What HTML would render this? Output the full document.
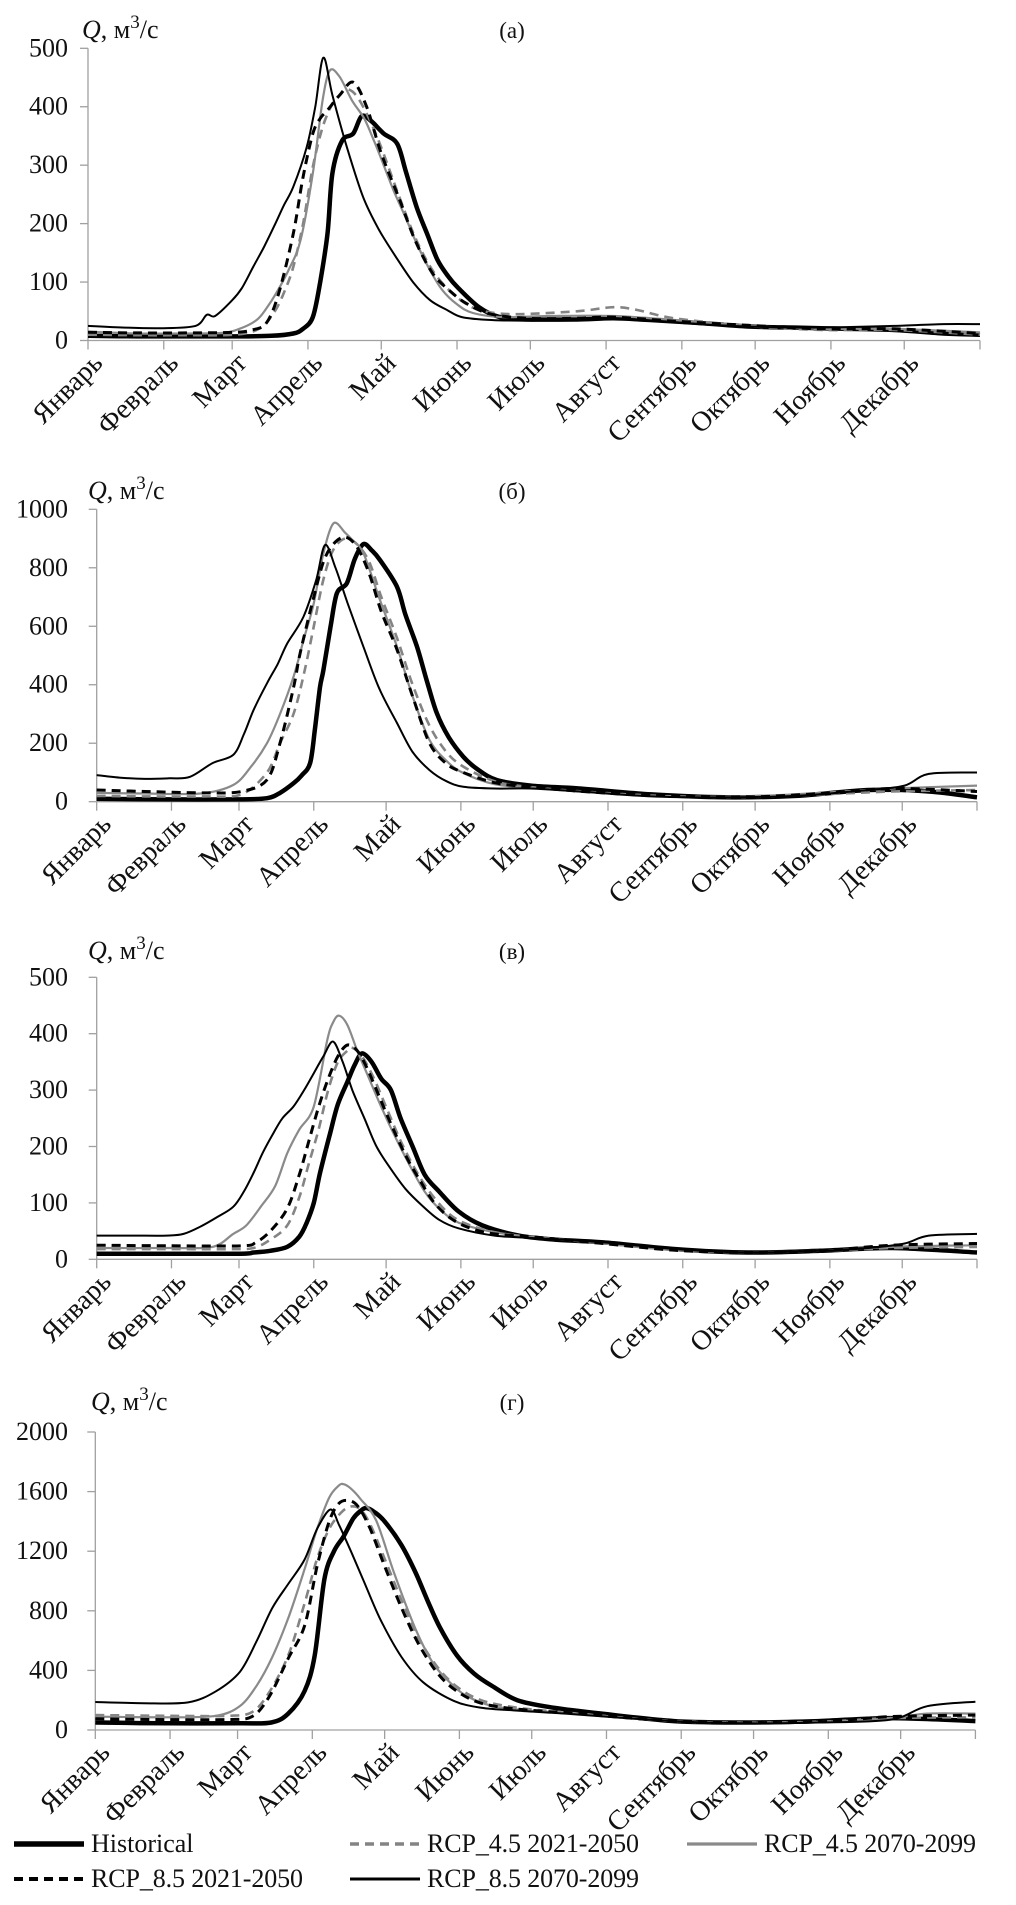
<!DOCTYPE html>
<html><head><meta charset="utf-8"><style>
html,body{margin:0;padding:0;background:#fff}
svg{display:block}
text{font-family:"Liberation Serif","DejaVu Serif",serif;fill:#111}
</style></head>
<body>
<svg id="chart" width="1016" height="1905" viewBox="0 0 1016 1905" xmlns="http://www.w3.org/2000/svg"></svg>
<script>
// ---------- data ----------
const monthNames = ["Январь","Февраль","Март","Апрель","Май","Июнь","Июль","Август","Сентябрь","Октябрь","Ноябрь","Декабрь"];
const monthStartDays = [0,31,59,90,120,151,181,212,243,273,304,334,365];
const panelLetters = ["(а)","(б)","(в)","(г)"];
const yMaxA = 500, yStepA = 100;
const yMaxB = 1000, yStepB = 200;
const yMaxC = 500, yStepC = 100;
const yMaxD = 2000, yStepD = 400;

// Panel (a)
const aHistDays = [0,20,40,60,75,84,88,92,95,98,100,104,108.5,112,116,121,126.5,130,134.5,139,143,147,151,160,168.5,180,200,215,230,250,270,290,310,330,350,365];
const aHistVals = [8,7,7,7,8,12,20,40,100,183,286,342,354,384,375,354,337,290,228,180,138,112,92,57,40,36,36,38,35,30,24,22,20,18,12,10];
const a4550Days = [0,20,40,60,70,76,80,84,88,92,96,100,103,106,110,115,120,127,134,141,148,155,162,175,200,215,225,240,270,300,330,365];
const a4550Vals = [10,9,9,10,20,47,80,126,200,297,365,405,420,430,418,380,330,250,175,120,85,62,50,45,50,57,52,38,25,18,18,10];
const a4599Days = [0,20,40,55,62,69,73,77,82,87,92,96,99,103,108,113,117,121,125,130,134.5,140,145,151,157.5,170,190,215,240,270,300,330,365];
const a4599Vals = [15,12,12,13,20,35,55,81,120,172,286,411,462,451,411,380,342,300,257,210,166,120,86,62,47,40,42,42,35,25,20,20,14];
const a8550Days = [0,20,40,60,67,73,78,84,88,92,95,98,103,108.5,114,120,127.6,134,141,148,155,165,180,200,215,240,270,300,330,365];
const a8550Vals = [14,13,13,14,18,30,80,183,280,354,380,394,420,442,400,320,240,170,115,85,63,45,38,38,40,33,26,20,20,12];
const a8599Days = [0,15,30,44,48.6,52,59,63,67.6,72,76,80,84,89.5,93,96.3,100,106,112.6,119,126,133,140,147,153,165,180,200,215,230,250,270,290,310,330,350,365];
const a8599Vals = [25,22,21,25,44,42,69,90,126,160,194,230,263,331,400,484,420,330,245,190,143,100,69,52,40,35,34,36,38,34,28,24,22,23,25,28,28];

// Panel (б)
const bHistDays = [0,30,60,70.6,76,81.6,85,88.5,90.5,92.6,94,97,99.6,103.7,107,110.6,114,117.5,124.5,128,132.8,137,141,146,152,158,166,180,200,230,260,290,320,345,365];
const bHistVals = [10,8,8,12,30,63,90,132,250,392,450,600,713,747,830,881,860,826,735,640,530,410,303,220,154,110,74,55,45,25,15,20,40,35,15];
const b4550Days = [0,20,45,60,70.6,76,81.6,86,90,94,98,103,108,113,118,124.5,131,138,145,152,165,180,210,240,270,300,330,365];
const b4550Vals = [20,18,18,25,100,200,300,440,600,760,860,900,880,820,700,560,400,260,170,120,70,50,30,18,16,25,35,40];
const b4599Days = [0,20,43,56.6,64,70.6,76,81.6,86,90,94,98.2,103,106,110.6,117,124.5,131,138,145,152,165,180,210,240,270,300,330,365];
const b4599Vals = [30,28,28,57,120,200,300,427,560,679,850,952,920,895,850,700,530,360,211,140,98,60,48,30,18,18,30,45,55];
const b8550Days = [0,20,45,60,70.6,76,81.6,84,87,90,94,98,103,108,113,118,124.5,131,138,145,152,165,180,210,240,270,300,330,365];
const b8550Vals = [40,35,30,35,75,200,390,495,600,700,820,880,905,870,780,650,520,360,200,130,100,65,50,30,18,16,28,45,35];
const b8599Days = [0,10,20,30,38.7,48,56.6,61,65,70.6,75,79,85.7,91,94.7,99,104,110.6,117,124.5,131,138,145,152,165,180,200,230,260,290,320,335,345,365];
const b8599Vals = [91,82,78,80,85,132,160,230,313,405,470,541,632,758,878,800,680,530,390,269,170,108,70,51,45,45,35,18,15,20,40,55,95,100];

// Panel (в)
const cHistDays = [0,30,60,65,72,79,84,87,90,92.6,96.8,100,104,107,110,114,118,122,126,131,136,142,150,160,175,190,210,240,270,300,330,365];
const cHistVals = [10,10,10,12,15,22,40,64,100,153,224,275,315,345,365,350,320,300,250,200,150,120,85,60,42,35,30,18,12,15,20,12];
const c4550Days = [0,30,55,65,72,79,84,88,92,96,100,104,106,110,115,120,126,132,138,145,152,165,180,210,240,270,300,330,365];
const c4550Vals = [18,18,18,20,35,60,110,170,230,300,350,370,375,360,320,270,210,160,120,85,65,48,40,28,16,12,15,20,22];
const c4599Days = [0,30,48,56.6,62,68,74,79,84,90,95.6,98,100.5,104,108,112,118,124,130,136,142,150,165,180,210,240,270,300,330,365];
const c4599Vals = [20,20,22,45,60,93,130,188,230,271,389,420,432,415,370,330,270,215,165,120,90,65,48,40,28,16,12,15,22,25];
const c8550Days = [0,30,60,66,72,79,84,88,92,96,100,104,108,112,117,122,128,134,140,147,155,165,180,210,240,270,300,330,365];
const c8550Vals = [25,24,24,30,50,90,150,210,270,320,360,380,370,340,290,240,185,140,100,72,55,45,40,28,16,12,15,25,28];
const c8599Days = [0,15,29,36,43,50,56.6,61,65,69,73.3,77,81.6,86,90,94,98,102,106,111,116,122,128,135,142,150,165,180,210,240,270,300,320,335,345,365];
const c8599Vals = [42,42,42,45,58,75,93,120,153,190,224,250,271,300,330,360,386,350,300,250,200,160,125,95,70,55,42,38,30,18,12,15,20,28,42,45];

// Panel (г)
const dHistDays = [0,30,60,73,80,86.8,91,95,99,103,107,110,112.4,116,120,127,133,138,143,150,157,164.6,175,190,210,240,270,300,330,365];
const dHistVals = [50,45,45,50,110,262,500,1013,1200,1300,1420,1470,1490,1460,1400,1240,1050,860,686,500,380,295,200,150,110,60,50,60,80,60];
const d4550Days = [0,30,55,65,72,80,86.8,92,97,102,106,110,114,120,127,134,142,150,160,175,200,230,260,300,330,365];
const d4550Vals = [100,95,95,120,250,500,850,1150,1350,1460,1500,1480,1380,1150,870,620,420,290,200,150,110,70,50,55,80,85];
const d4599Days = [0,30,50,60,67,73.4,80,86.8,92,97,101,103,106,110,116.5,124,132.6,140,147,154,165,180,200,230,260,300,330,345,365];
const d4599Vals = [90,85,95,161,300,490,750,1080,1350,1560,1640,1650,1620,1550,1406,1050,686,450,320,228,160,130,110,70,50,55,80,110,110];
const d8550Days = [0,30,55,65,72,80,86.8,92,97,101,105,109,114,120,127,134,142,150,160,175,200,230,260,300,330,365];
const d8550Vals = [75,70,70,90,220,480,700,1100,1400,1520,1540,1500,1350,1100,820,580,380,260,180,140,110,70,50,55,90,100];
const d8599Days = [0,20,38.5,50,60,67,73.4,80,86.8,92,97.5,101,106,111,118,127,136,148.7,160,175,195,220,245,270,300,330,345,365];
const d8599Vals = [188,180,185,260,391,600,819,980,1144,1350,1480,1380,1200,1013,750,490,320,195,150,130,110,80,55,45,50,70,160,190];

// ---------- drawing ----------
const NS = "http://www.w3.org/2000/svg";
const svg = document.getElementById('chart');
function mk(tag, attrs, parent){
  const e = document.createElementNS(NS, tag);
  for (const k in attrs) e.setAttribute(k, attrs[k]);
  (parent||svg).appendChild(e);
  return e;
}
const styles = {
  hist: {stroke:"#000", w:4.5, dash:null},
  r4550: {stroke:"#848484", w:2.6, dash:"9,6"},
  r4599: {stroke:"#8a8a8a", w:2.2, dash:null},
  r8550: {stroke:"#000", w:3, dash:"9,6"},
  r8599: {stroke:"#000", w:2, dash:null}
};
const panels = [
  {id:"a", x0:88, x1:980, base:340.5, top:48.3, max:yMaxA, step:yStepA, titleY:38, qx:82,
   series:[["hist",aHistDays,aHistVals],["r4550",a4550Days,a4550Vals],["r4599",a4599Days,a4599Vals],["r8550",a8550Days,a8550Vals],["r8599",a8599Days,a8599Vals]]},
  {id:"b", x0:96.7, x1:977, base:801.7, top:509.3, max:yMaxB, step:yStepB, titleY:499, qx:88,
   series:[["hist",bHistDays,bHistVals],["r4550",b4550Days,b4550Vals],["r4599",b4599Days,b4599Vals],["r8550",b8550Days,b8550Vals],["r8599",b8599Days,b8599Vals]]},
  {id:"c", x0:96.7, x1:977, base:1259.3, top:977.3, max:yMaxC, step:yStepC, titleY:959, qx:88,
   series:[["hist",cHistDays,cHistVals],["r4550",c4550Days,c4550Vals],["r4599",c4599Days,c4599Vals],["r8550",c8550Days,c8550Vals],["r8599",c8599Days,c8599Vals]]},
  {id:"d", x0:95.3, x1:975.4, base:1730, top:1432, max:yMaxD, step:yStepD, titleY:1410, qx:91,
   series:[["hist",dHistDays,dHistVals],["r4550",d4550Days,d4550Vals],["r4599",d4599Days,d4599Vals],["r8550",d8550Days,d8550Vals],["r8599",d8599Days,d8599Vals]]}
];
function smoothPath(pts){
  let d = "M" + pts[0][0].toFixed(1) + "," + pts[0][1].toFixed(1);
  for (let i=0;i<pts.length-1;i++){
    const p0 = pts[i-1]||pts[i], p1 = pts[i], p2 = pts[i+1], p3 = pts[i+2]||p2;
    const t = 0.16;
    const c1x = p1[0]+(p2[0]-p0[0])*t, c1y = p1[1]+(p2[1]-p0[1])*t;
    const c2x = p2[0]-(p3[0]-p1[0])*t, c2y = p2[1]-(p3[1]-p1[1])*t;
    d += "C"+c1x.toFixed(1)+","+c1y.toFixed(1)+" "+c2x.toFixed(1)+","+c2y.toFixed(1)+" "+p2[0].toFixed(1)+","+p2[1].toFixed(1);
  }
  return d;
}
panels.forEach((p, pi) => {
  const g = mk('g', {});
  
  
  const xs = day => p.x0 + (p.x1 - p.x0) * day / 365;
  const ys = v => p.base - (p.base - p.top) * v / p.max;

  const t = mk('text', {x:p.qx, y:p.titleY, 'font-size':26}, g);
  
  
  t.innerHTML = '<tspan font-style="italic">Q</tspan>, м<tspan dy="-10" font-size="19">3</tspan><tspan dy="10">/с</tspan>';
  const lt = mk('text', {x:512, y:p.titleY, 'font-size':23, 'text-anchor':'middle'}, g);
  
  
  lt.textContent = panelLetters[pi];

  const ya = mk('line', {x1:p.x0, y1:p.top, x2:p.x0, y2:p.base, stroke:"#a0a0a0", 'stroke-width':1.3}, g);
  
  
  const xa = mk('line', {x1:p.x0, y1:p.base, x2:p.x1, y2:p.base, stroke:"#a0a0a0", 'stroke-width':1.3}, g);
  
  

  for (let v = 0; v <= p.max; v += p.step){
    const y = ys(v);
    const tk = mk('line', {x1:p.x0-8, y1:y, x2:p.x0, y2:y, stroke:"#a0a0a0", 'stroke-width':1.3}, g);
    
    
    const tl = mk('text', {x:68, y:y+8, 'font-size':26, 'text-anchor':'end'}, g);
    
    
    tl.textContent = v;
  }
  monthStartDays.forEach((d, i) => {
    const x = xs(d);
    const tk = mk('line', {x1:x, y1:p.base, x2:x, y2:p.base+9, stroke:"#a0a0a0", 'stroke-width':1.3}, g);
    
    
    if (i < 12){
      const ml = mk('text', {x:0, y:0, 'font-size':28, 'text-anchor':'end',
        transform:'translate(' + (x+16).toFixed(1) + ',' + (p.base+24).toFixed(1) + ') rotate(-45)'}, g);
      
      
      ml.textContent = monthNames[i];
    }
  });

  p.series.forEach(s => {
    const st = styles[s[0]];
    const pts = s[1].map((d, i) => [xs(d), ys(s[2][i])]);
    const path = mk('path', {d:smoothPath(pts), fill:'none', stroke:st.stroke, 'stroke-width':st.w, 'stroke-linejoin':'round'}, g);
    if (st.dash) path.setAttribute('stroke-dasharray', st.dash);
    
    
  });
});

const legendItems = [
  ["hist","Historical",14,1852],
  ["r4550","RCP_4.5 2021-2050",350,1852],
  ["r4599","RCP_4.5 2070-2099",687,1852],
  ["r8550","RCP_8.5 2021-2050",14,1887],
  ["r8599","RCP_8.5 2070-2099",350,1887]
];
const lg = mk('g', {});


legendItems.forEach(it => {
  const st = styles[it[0]];
  const ln = mk('line', {x1:it[2], y1:it[3]-8, x2:it[2]+70, y2:it[3]-8, stroke:st.stroke, 'stroke-width':st.w+1}, lg);
  if (st.dash) ln.setAttribute('stroke-dasharray', st.dash);
  
  
  const tx = mk('text', {x:it[2]+77, y:it[3], 'font-size':26}, lg);
  if (it[1] !== "Historical") tx.setAttribute('textLength', 212);
  
  
  tx.textContent = it[1];
});
</script>
</body></html>
